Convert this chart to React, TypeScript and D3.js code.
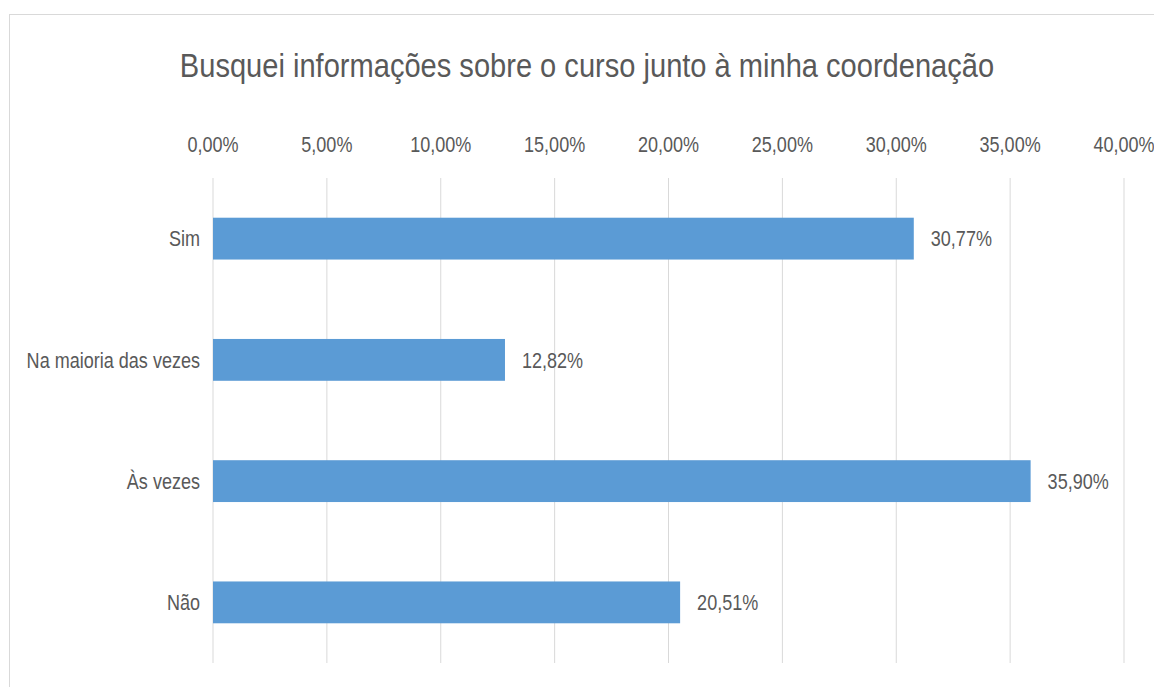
import * as d3 from "d3"
import { useEffect, useRef } from "react"

const BAR_COLOR = "#5B9BD5"
const TEXT_COLOR = "#595959"
const GRID_COLOR = "#D9D9D9"
const FONT = "'Liberation Sans', Arial, sans-serif"
// narrow look of the original font, faked by squeezing the text horizontally
const SQUEEZE = 0.82

const title = "Busquei informações sobre o curso junto à minha coordenação"
const categories = ["Sim", "Na maioria das vezes", "Às vezes", "Não"]
const values = [30.77, 12.82, 35.9, 20.51]
const tickValues = [0, 5, 10, 15, 20, 25, 30, 35, 40]

const W = 1154
const H = 687
const margin = { top: 178, right: 30, bottom: 24, left: 213 }
const plotRight = 1124

const fmt = (v: number) => v.toFixed(2).replace(".", ",") + "%"
const at = (x: number, y: number, sx = SQUEEZE) => `translate(${x},${y}) scale(${sx},1)`

export default function App() {
  const svgRef = useRef<SVGSVGElement | null>(null)

  useEffect(() => {
    if (!svgRef.current) return
    const svg = d3.select(svgRef.current)
    svg.selectAll("*").remove()

    // chart frame
    svg
      .append("rect")
      .attr("x", 9.5)
      .attr("y", 14.5)
      .attr("width", 1156)
      .attr("height", 700)
      .attr("fill", "#fff")
      .attr("stroke", GRID_COLOR)

    // Title
    svg
      .append("text")
      .attr("transform", at(587, 77, 0.855))
      .attr("text-anchor", "middle")
      .text(title)
      .style("font-family", FONT)
      .style("font-size", "34px")
      .style("fill", TEXT_COLOR)

    const x = d3.scaleLinear().domain([0, 40]).range([margin.left, plotRight])
    const y = d3
      .scaleBand()
      .domain(categories)
      .range([margin.top, H - margin.bottom])
      .paddingInner(0.655)
      .paddingOuter(0.3275)

    // Grid lines
    svg
      .append("g")
      .selectAll("line")
      .data(tickValues)
      .enter()
      .append("line")
      .attr("x1", (d) => x(d))
      .attr("x2", (d) => x(d))
      .attr("y1", margin.top)
      .attr("y2", H - margin.bottom)
      .attr("stroke", GRID_COLOR)
      .attr("stroke-width", 1)

    // X axis labels (top)
    svg
      .append("g")
      .selectAll("text")
      .data(tickValues)
      .enter()
      .append("text")
      .attr("transform", (d) => at(x(d), 152))
      .attr("text-anchor", "middle")
      .text((d) => fmt(d))
      .style("font-family", FONT)
      .style("font-size", "22px")
      .style("fill", TEXT_COLOR)

    // Category labels
    svg
      .append("g")
      .selectAll("text")
      .data(categories)
      .enter()
      .append("text")
      .attr("transform", (d) => at(margin.left - 13, y(d)! + y.bandwidth() / 2))
      .attr("dy", "0.35em")
      .attr("text-anchor", "end")
      .text((d) => d)
      .style("font-family", FONT)
      .style("font-size", "22px")
      .style("fill", TEXT_COLOR)

    // Bars
    svg
      .append("g")
      .selectAll("rect")
      .data(categories)
      .enter()
      .append("rect")
      .attr("x", x(0))
      .attr("y", (d) => y(d)!)
      .attr("width", (d, i) => x(values[i]) - x(0))
      .attr("height", y.bandwidth())
      .attr("fill", BAR_COLOR)

    // Value labels
    svg
      .append("g")
      .selectAll("text")
      .data(categories)
      .enter()
      .append("text")
      .attr("transform", (d, i) => at(x(values[i]) + 17, y(d)! + y.bandwidth() / 2))
      .attr("dy", "0.35em")
      .text((d, i) => fmt(values[i]))
      .style("font-family", FONT)
      .style("font-size", "22px")
      .style("fill", TEXT_COLOR)
  }, [])

  return (
    <svg
      ref={svgRef}
      width={W}
      height={H}
      style={{ position: "absolute", left: 0, top: 0, background: "#fff" }}
      xmlns="http://www.w3.org/2000/svg"
    />
  )
}
